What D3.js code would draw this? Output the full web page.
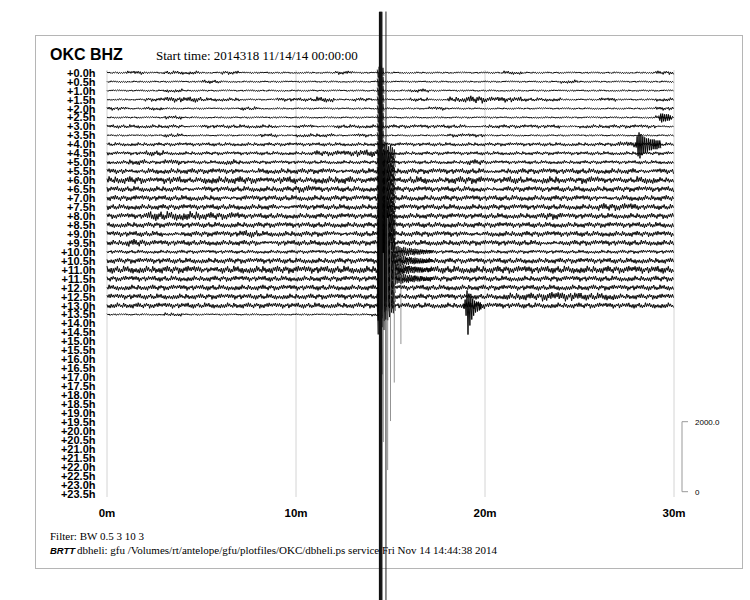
<!DOCTYPE html>
<html><head><meta charset="utf-8">
<script src="https://cdn.jsdelivr.net/npm/d3@7"></script>
<style>body{margin:0;background:#fff}</style>
</head><body><svg id="c" width="750" height="600"></svg>
<script>
// ---------- data ----------
const rowLabels = ["+0.0h","+0.5h","+1.0h","+1.5h","+2.0h","+2.5h","+3.0h","+3.5h","+4.0h","+4.5h",
 "+5.0h","+5.5h","+6.0h","+6.5h","+7.0h","+7.5h","+8.0h","+8.5h","+9.0h","+9.5h",
 "+10.0h","+10.5h","+11.0h","+11.5h","+12.0h","+12.5h","+13.0h","+13.5h","+14.0h","+14.5h",
 "+15.0h","+15.5h","+16.0h","+16.5h","+17.0h","+17.5h","+18.0h","+18.5h","+19.0h","+19.5h",
 "+20.0h","+20.5h","+21.0h","+21.5h","+22.0h","+22.5h","+23.0h","+23.5h"];
const minuteTicks = [0, 10, 20, 30];
const minuteTickLabels = ["0m", "10m", "20m", "30m"];
// per-row noise envelope, one digit per minute (digit x envUnit counts half-amplitude)
const rowEnvelopes = [
 "121221211111211111111211111112",
 "111112111111111111111111211111",
 "111211111111111121111111111111",
 "112332211223121121343322112112",
 "212111121111111112111111111112",
 "111211111111111111111111111112",
 "222212222121222222212222122221",
 "111211112122121111221111111111",
 "222222222222222222222222222322",
 "223222222223344222222222222222",
 "232322322222222222232222222222",
 "323333323333233333332333333323",
 "443434443434434343443434343343",
 "333323333343333333332333333333",
 "333333233333333333333333332333",
 "333333333233333333333333334433",
 "335554433333333333333334333333",
 "333333333333333333333333333333",
 "333233343333233333323333333333",
 "343333332333333333333332333333",
 "222222222222222222222222222222",
 "333333333333333333333333333333",
 "444443444444444434444444444444",
 "333333333333333333333333333333",
 "333333333333333333333333333333",
 "333333333333333333333445544333",
 "333333333333333333343333333333",
 "111211111111112"
];
const lastRowEnd = 14.58;          // minutes of data in last row
const noiseTexture = [1,.35,.7,.5,.2,.9,.6,.3,.8,.15,.55,1,.4,.65,.25,.85,.5,.3,.75,.45,.95,.2,.6,.35,.7,.1,.9,.5,.65,.3,.8,.4,.55,1,.25,.6,.45,.15,.7,.9,.35,.5,.8,.2,.6,.4,.75,.3,.95,.55,.25,.7,.45];
// discrete events: signed samples in counts, step 0.05 min
const events = [
 {row:5,  start:29.2,  vals:[60,-90,110,-140,110,-110,90,-110,90,-90,90,-90,60,-60]},
 {row:8,  start:27.95, vals:[60,-90,230,-340,340,-400,290,-310,230,-260,200,-230,170,-200,170,-170,140,-170,140,-140,140,-140,110,-140,110,-110,110,-110]},
 {row:26, start:18.85, vals:[60,-90,170,-290,430,-830,340,-570,260,-400,200,-290,140,-200,110,-170,110,-140,90,-110]}
];
// the large earthquake near 14.3 min, per group of rows (counts, step 0.05 min)
const quakeStart = 14.3;
const quakeGroups = [
 {rows:[0,1,2,3,4,5,6,7,8], vals:[90,-140,170,-140,200,-110,140,-90]},
 {rows:[9,10,11,12,13,14,15], vals:[120,-240,360,-200,420,-330,260,-380,330,-240,300,-310,200,-260,230,-150,170,-200,110,-140]},
 {rows:[16,17,18,19], vals:[170,-360,520,-300,600,-450,380,-520,460,-330,420,-380,280,-330,300,-200,230,-240,140,-170]},
 {rows:[20,21,22,23], vals:[230,-430,650,-380,720,-560,470,-630,520,-400,430,-380,320,-340,280,-230,250,-220,200,-170,150,-140,170,-120,140,-150,110,-130,140,-100,120,-110,90,-120,110,-80,100,-90,80,-100,90,-70,80,-80,60,-80,70,-60,60,-70,50,-60,60,-50,40,-50,50,-40,40,-40]},
 {rows:[24,25,26], vals:[230,-430,720,-450,800,-620,560,-700,520,-400,460,-420,300,-330,260,-200,200,-220,120,-150]},
 {rows:[27], vals:[290,-570,860,-1140,1430,-1710]}
];
// clipped vertical excursions (counts above / below row baseline)
const spikes = [
 {row:27, t:14.42, up:8650, down:8400, kind:"thick"},
 {row:27, t:14.46, up:8650, down:8400, kind:"thick"},
 {row:27, t:14.50, up:8650, down:8400, kind:"thick"},
 {row:27, t:14.54, up:8650, down:8400, kind:"thick"},
 {row:26, t:14.76, up:8400, down:8650, kind:"thin"},
 {row:26, t:14.62, up:1500, down:3900, kind:"gray"},
 {row:26, t:14.85, up:2500, down:4700, kind:"gray"},
 {row:26, t:15.00, up:1800, down:3300, kind:"gray"},
 {row:26, t:15.20, up:1200, down:2200, kind:"gray"},
 {row:26, t:15.55, up:800,  down:1100, kind:"gray"}
];
const scaleBarValues = [0, 2000];
const envUnit = 27;

// ---------- scales ----------
const svg = d3.select("#c");
const x = d3.scaleLinear().domain([0, 30]).range([107, 674]);
const rowY = d3.scaleLinear().domain([0, 47]).range([72.7, 493.6]);
const amp = d3.scaleLinear().domain([0, 2000]).range([0, 70]);

// frame
svg.append("rect").attr("x",35.5).attr("y",35.5).attr("width",707).attr("height",533)
  .attr("fill","none").attr("stroke","#b5b5b5");

// grid
svg.append("g").selectAll("line").data(minuteTicks).join("line")
  .attr("x1",d=>x(d)).attr("x2",d=>x(d)).attr("y1",70).attr("y2",497)
  .attr("stroke","#d4d4d4").attr("stroke-width",1);

// title
svg.append("text").attr("x",50).attr("y",60).text("OKC BHZ")
  .attr("font-family","Liberation Sans, Arial, sans-serif").attr("font-weight","bold").attr("font-size",16);
svg.append("text").attr("x",156).attr("y",60).text("Start time: 2014318 11/14/14 00:00:00")
  .attr("font-family","Liberation Serif, Times New Roman, serif").attr("font-size",13);

// row labels
svg.append("g").selectAll("text").data(rowLabels).join("text")
  .attr("x",95.5).attr("y",(d,i)=>rowY(i)+4).attr("text-anchor","end")
  .attr("font-family","Liberation Sans, Arial, sans-serif").attr("font-weight","bold").attr("font-size",11)
  .text(d=>d);

// x labels
svg.append("g").selectAll("text").data(minuteTicks).join("text")
  .attr("x",d=>x(d)).attr("y",517).attr("text-anchor","middle")
  .attr("font-family","Liberation Sans, Arial, sans-serif").attr("font-weight","bold").attr("font-size",11.5)
  .text((d,i)=>minuteTickLabels[i]);

// traces
const line = d3.line().x(d=>x(d[0])).y(d=>d[2] - amp(d[1]));
const tg = svg.append("g").attr("fill","none").attr("stroke","#000").attr("stroke-width",0.95);
rowEnvelopes.forEach((env, r) => {
  const end = r === rowEnvelopes.length - 1 ? lastRowEnd : 30;
  const base = rowY(r);
  const pts = [];
  const dt = 0.055;
  for (let k = 0; k * dt <= end; k++) {
    const t = k * dt;
    const m = Math.min(Math.floor(t), env.length - 1);
    const a = parseInt(env[m], 36) * envUnit * noiseTexture[(k + r * 7) % noiseTexture.length];
    pts.push([t, k % 2 ? -a : a, base]);
  }
  tg.append("path").attr("d", line(pts));
});

// events
events.forEach(ev => {
  const base = rowY(ev.row);
  const pts = ev.vals.map((v,i)=>[ev.start + i*0.05, v, base]);
  tg.append("path").attr("d", line(pts));
});
quakeGroups.forEach(g => {
  g.rows.forEach(r => {
    const base = rowY(r);
    const pts = g.vals.map((v,i)=>[quakeStart + i*0.05, v, base]);
    tg.append("path").attr("d", line(pts)).attr("stroke-width",0.8);
  });
});

// spikes
const spikeStyle = {thick:{c:"#111",w:1.3}, thin:{c:"#222",w:1}, gray:{c:"#777",w:0.8}};
svg.append("g").selectAll("line").data(spikes).join("line")
  .attr("x1",d=>x(d.t)).attr("x2",d=>x(d.t))
  .attr("y1",d=>rowY(d.row)-amp(d.up)).attr("y2",d=>rowY(d.row)+amp(d.down))
  .attr("stroke",d=>spikeStyle[d.kind].c).attr("stroke-width",d=>spikeStyle[d.kind].w);

// amplitude scale bar
const sb = svg.append("g");
const sb0 = 491.7;
const sbY = v => sb0 - amp(v);
sb.append("path").attr("d",`M688,${sbY(2000)}H682V${sbY(0)}H688`)
  .attr("fill","none").attr("stroke","#999");
sb.selectAll("text").data(scaleBarValues).join("text")
  .attr("x",695).attr("y",d=>sbY(d)+3)
  .attr("font-family","Liberation Sans, Arial, sans-serif").attr("font-size",8)
  .text(d=>d === 0 ? "0" : d3.format(".1f")(d));

// footer
svg.append("text").attr("x",50).attr("y",540).text("Filter: BW 0.5 3 10 3")
  .attr("font-family","Liberation Serif, Times New Roman, serif").attr("font-size",11);
svg.append("text").attr("x",50).attr("y",554).text("BRTT")
  .attr("font-family","Liberation Sans, Arial, sans-serif").attr("font-weight","bold")
  .attr("font-style","italic").attr("font-size",9.5);
svg.append("text").attr("x",77).attr("y",554)
  .text("dbheli: gfu /Volumes/rt/antelope/gfu/plotfiles/OKC/dbheli.ps service Fri Nov 14 14:44:38 2014")
  .attr("font-family","Liberation Serif, Times New Roman, serif").attr("font-size",11);
</script></body></html>
